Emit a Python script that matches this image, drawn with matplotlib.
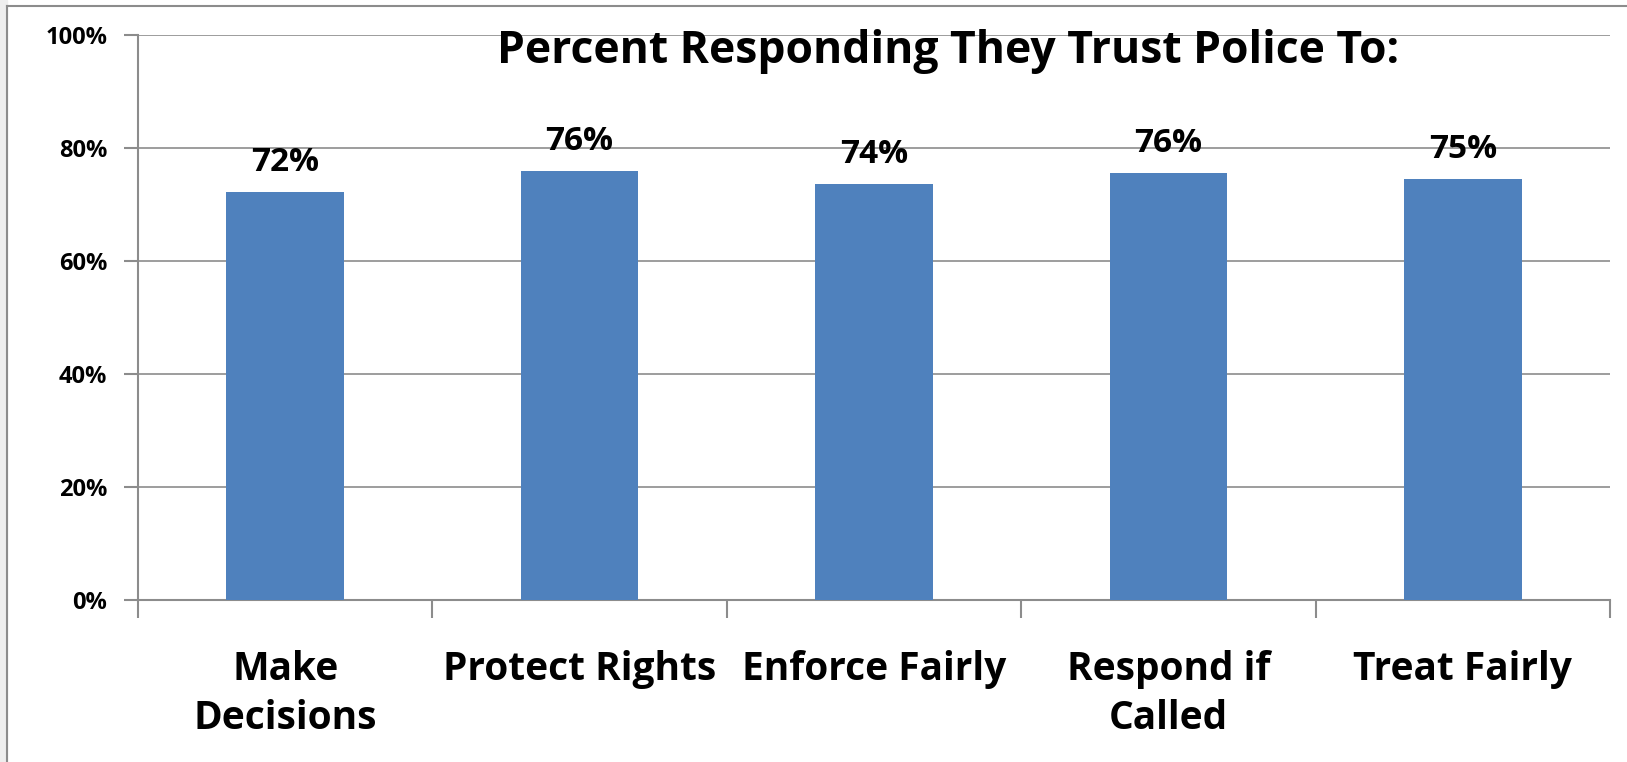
import matplotlib
matplotlib.use("Agg")
import matplotlib.pyplot as plt
from matplotlib.lines import Line2D
from matplotlib.patches import Rectangle

categories = ["Make\nDecisions", "Protect Rights", "Enforce Fairly", "Respond if\nCalled", "Treat Fairly"]
values = [72.2, 75.9, 73.7, 75.6, 74.6]
labels = ["72%", "76%", "74%", "76%", "75%"]
yticks = [0, 20, 40, 60, 80, 100]
title = "Percent Responding They Trust Police To:"

plt.rcParams['font.family'] = ['Open Sans', 'DejaVu Sans']

W, H = 1627, 762
fig = plt.figure(figsize=(W / 100, H / 100), dpi=100)
fig.patch.set_facecolor("white")

# window-like border on left / top
fig.add_artist(Rectangle((0, 0), 7 / W, 1, transform=fig.transFigure, color="#eeeeee", zorder=0))
fig.add_artist(Line2D([7 / W, 7 / W], [0, 1 - 6 / H], transform=fig.transFigure, color="#8c8c8c", lw=1.5))
fig.add_artist(Line2D([7 / W, 1], [1 - 6 / H, 1 - 6 / H], transform=fig.transFigure, color="#8c8c8c", lw=1.5))

ax = fig.add_axes([138 / W, 1 - 600 / H, (1610 - 138) / W, (600 - 35) / H])
x = list(range(len(categories)))
ax.bar(x, values, width=0.4, color="#4F81BD", zorder=3)

ax.set_xlim(-0.5, len(categories) - 0.5)
ax.set_ylim(0, 100)
ax.set_yticks(yticks)
ax.set_yticklabels([f"{v}%" for v in yticks], fontsize=17, fontweight="bold")
ax.yaxis.grid(True, color="#8c8c8c", lw=1.2, zorder=0)

ax.set_xticks([i - 0.5 for i in range(len(categories) + 1)])
ax.set_xticklabels([])
ax.tick_params(axis="x", length=13, width=1.5, color="#8c8c8c")
ax.tick_params(axis="y", length=10, width=1.5, color="#8c8c8c", pad=12)

for s in ["top", "right"]:
    ax.spines[s].set_visible(False)
for s in ["left", "bottom"]:
    ax.spines[s].set_color("#8c8c8c")
    ax.spines[s].set_linewidth(1.5)

for i, cat in enumerate(categories):
    ax.annotate(cat, (i, 0), xytext=(0, -36), textcoords="offset points",
                ha="center", va="top", fontsize=28, fontweight="bold", linespacing=1.33)

for i, (v, lab) in enumerate(zip(values, labels)):
    ax.annotate(lab, (i, v), xytext=(0, 21), textcoords="offset points",
                ha="center", va="center", fontsize=24, fontweight="bold")

fig.text(948 / W, 1 - 52 / H, title, ha="center", va="center", fontsize=32, fontweight="bold")

fig.savefig("out.png", dpi=100)
